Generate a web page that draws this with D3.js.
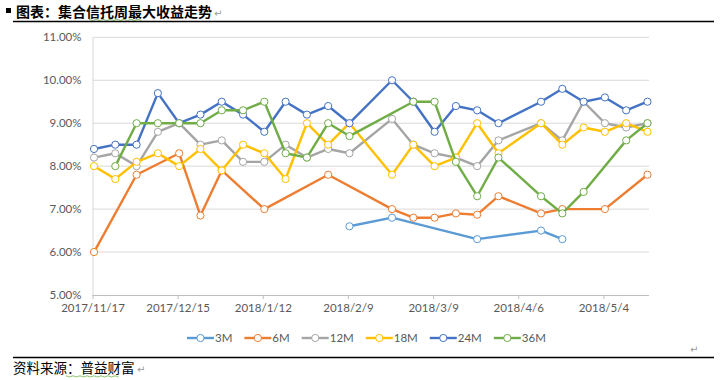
<!DOCTYPE html>
<html><head><meta charset="utf-8">
<script src="https://cdn.jsdelivr.net/npm/d3@7/dist/d3.min.js"></script>
<style>
html,body{margin:0;padding:0;background:#fff;}
svg{display:block;}
</style></head>
<body>
<svg id="c" width="720" height="380"></svg>
<script>
const dates = ["2017/11/17","2017/11/24","2017/12/1","2017/12/8","2017/12/15","2017/12/22","2017/12/29",
"2018/1/5","2018/1/12","2018/1/19","2018/1/26","2018/2/2","2018/2/9","2018/2/16","2018/2/23",
"2018/3/2","2018/3/9","2018/3/16","2018/3/23","2018/3/30","2018/4/6","2018/4/13","2018/4/20",
"2018/4/27","2018/5/4","2018/5/11","2018/5/18"];
const tickLabels = ["2017/11/17","2017/12/15","2018/1/12","2018/2/9","2018/3/9","2018/4/6","2018/5/4"];
const yTicks = [5,6,7,8,9,10,11];
const seriesNames = ["3M","6M","12M","18M","24M","36M"];
const colors = ["#5B9BD5","#ED7D31","#A5A5A5","#FFC000","#4472C4","#70AD47"];
const _ = null;
const s3M  = [_,_,_,_,_,_,_,_,_,_,_,_,6.6,_,6.8,_,_,_,6.3,_,_,6.5,6.3,_,_,_,_];
const s6M  = [6.0,_,7.8,_,8.3,6.85,7.9,_,7.0,_,_,7.8,_,_,7.0,6.8,6.8,6.9,6.87,7.3,_,6.9,7.0,_,7.0,_,7.8];
const s12M = [8.2,8.3,8.0,8.8,9.0,8.5,8.6,8.1,8.1,8.5,8.2,8.4,8.3,_,9.1,8.5,8.3,8.2,8.0,8.6,_,9.0,8.6,9.5,9.0,8.9,9.0];
const s18M = [8.0,7.7,8.1,8.3,8.0,8.4,7.9,8.5,8.3,7.7,9.0,8.5,9.0,_,7.8,8.5,8.0,8.2,9.0,8.3,_,9.0,8.5,8.9,8.8,9.0,8.8];
const s24M = [8.4,8.5,8.5,9.7,9.0,9.2,9.5,9.2,8.8,9.5,9.2,9.4,9.0,_,10.0,9.5,8.8,9.4,9.3,9.0,_,9.5,9.8,9.5,9.6,9.3,9.5];
const s36M = [_,8.0,9.0,9.0,9.0,9.0,9.3,9.3,9.5,8.3,8.2,9.0,8.7,_,_,9.5,9.5,8.1,7.3,8.2,_,7.3,6.9,7.4,_,8.6,9.0];
const seriesValues = [s3M,s6M,s12M,s18M,s24M,s36M];

const parse = d3.timeParse("%Y/%m/%d");
const svg = d3.select("#c");
svg.append("rect").attr("width",720).attr("height",380).attr("fill","#fff");

const pLeft = 92.5, pRight = 649, pTop = 37.3, pBottom = 295;
const x = d3.scaleTime().domain([parse("2017/11/17"), parse("2018/5/19")]).range([pLeft,pRight]);
const y = d3.scaleLinear().domain([5,11]).range([pBottom, pTop]);
const halfDay = 12*3600*1000;
const px = s => x(new Date(parse(s).getTime()+halfDay));

const txtFont = "Lato, 'Open Sans', sans-serif";
const grey = "#595959";

// title
svg.append("rect").attr("x",6).attr("y",8).attr("width",5).attr("height",5).attr("fill","#000");
svg.append("text").attr("x",16).attr("y",17)
  .attr("font-family","'Noto Sans CJK SC', sans-serif").attr("font-weight","bold").attr("font-size",14)
  .attr("fill","#000").text("图表：集合信托周最大收益走势");
svg.append("text").attr("x",214).attr("y",17).attr("font-size",10).attr("fill","#999")
  .attr("font-family","'DejaVu Sans', sans-serif").text("↵");
svg.append("path").attr("d", d3.range(0,16).map(i=>`${i===0?"M":"L"}${89+i*3.5},${i%2?20.5:19.3}`).join(""))
  .attr("fill","none").attr("stroke","#70AD47").attr("stroke-width",0.8);
svg.append("line").attr("x1",13).attr("x2",714).attr("y1",21.5).attr("y2",21.5).attr("stroke","#000").attr("stroke-width",1.4);

// gridlines
svg.append("g").selectAll("line").data(yTicks.filter(d=>d>5)).join("line")
  .attr("x1",pLeft).attr("x2",pRight).attr("y1",d=>y(d)).attr("y2",d=>y(d))
  .attr("stroke","#d9d9d9").attr("stroke-width",1);

// y axis
const yAxis = svg.append("g").attr("transform",`translate(${pLeft},0)`)
  .call(d3.axisLeft(y).tickValues(yTicks).tickFormat(d=>d.toFixed(2)+"%").tickSize(0).tickPadding(11));
yAxis.select(".domain").attr("stroke","#d9d9d9");
yAxis.selectAll("text").attr("font-family",txtFont).attr("font-size",11.5).attr("fill",grey);

// x axis
const xAxis = svg.append("g").attr("transform",`translate(0,${pBottom})`)
  .call(d3.axisBottom(x).tickValues(tickLabels.map(parse)).tickFormat((d,i)=>tickLabels[i]).tickSize(4).tickPadding(5));
xAxis.select(".domain").attr("stroke","#bfbfbf").attr("d",`M${pLeft},0.5H${pRight}`);
xAxis.selectAll(".tick line").attr("stroke","#bfbfbf");
xAxis.selectAll("text").attr("font-family",txtFont).attr("font-size",11.5).attr("fill",grey);

// series
const line = d3.line().x(d=>px(d.date)).y(d=>y(d.v));
seriesValues.forEach((vals,si)=>{
  const pts = vals.map((v,i)=>({date:dates[i], v})).filter(d=>d.v!==null);
  const g = svg.append("g");
  g.append("path").datum(pts).attr("d",line).attr("fill","none")
    .attr("stroke",colors[si]).attr("stroke-width",2.4).attr("stroke-linejoin","round").attr("stroke-linecap","round");
  g.selectAll("circle").data(pts).join("circle")
    .attr("cx",d=>px(d.date)).attr("cy",d=>y(d.v)).attr("r",3.6)
    .attr("fill","#fff").attr("stroke",colors[si]).attr("stroke-width",1);
});

// legend
let lx = 187; const ly = 338;
seriesNames.forEach((n,i)=>{
  const g = svg.append("g");
  g.append("line").attr("x1",lx).attr("x2",lx+27).attr("y1",ly).attr("y2",ly)
    .attr("stroke",colors[i]).attr("stroke-width",2.4);
  g.append("circle").attr("cx",lx+13.5).attr("cy",ly).attr("r",3.6).attr("fill","#fff")
    .attr("stroke",colors[i]).attr("stroke-width",1);
  const t = g.append("text").attr("x",lx+28).attr("y",ly+4.2).attr("font-family",txtFont)
    .attr("font-size",11.5).attr("fill",grey).text(n);
  lx += 28 + t.node().getComputedTextLength() + 12;
});

// bottom
svg.append("text").attr("x",690).attr("y",353).attr("font-size",10).attr("fill","#999")
  .attr("font-family","'DejaVu Sans', sans-serif").text("↵");
svg.append("line").attr("x1",13).attr("x2",714).attr("y1",357.5).attr("y2",357.5).attr("stroke","#000").attr("stroke-width",1.4);
svg.append("text").attr("x",13).attr("y",373).attr("font-family","'Noto Sans CJK SC', sans-serif")
  .attr("font-size",13.5).attr("fill","#000").text("资料来源：普益财富");
svg.append("path").attr("d", d3.range(0,16).map(i=>`${i===0?"M":"L"}${66+i*3.5},${i%2?377:375.8}`).join(""))
  .attr("fill","none").attr("stroke","#70AD47").attr("stroke-width",0.8);
svg.append("text").attr("x",137).attr("y",373).attr("font-size",10).attr("fill","#999")
  .attr("font-family","'DejaVu Sans', sans-serif").text("↵");
</script>
</body></html>
